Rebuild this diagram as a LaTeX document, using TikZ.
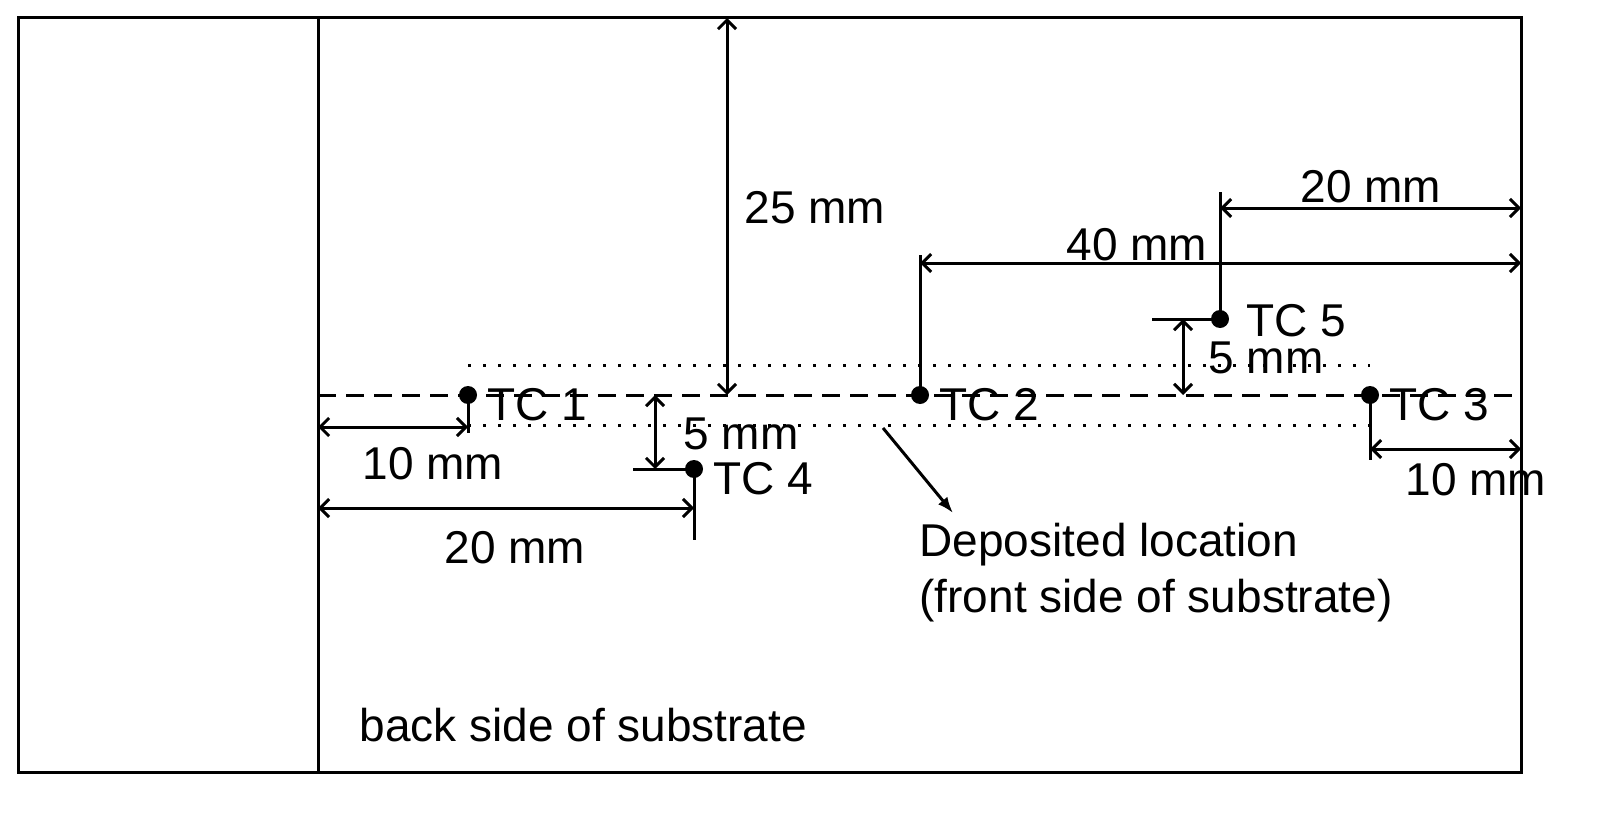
\documentclass[tikz,border=0pt]{standalone}
\usepackage{fontspec}
\setmainfont{Liberation Sans}
\usetikzlibrary{arrows.meta}
\begin{document}
\begin{tikzpicture}[x=1pt,y=-1pt,line width=3pt,
  dim/.style={{Straight Barb[length=9pt,width=18pt]}-{Straight Barb[length=9pt,width=18pt]}},
  lbl/.style={font=\fontsize{46}{52}\selectfont,inner sep=0pt},
  tc/.style={circle,fill=black,inner sep=0pt,minimum size=18pt}]
\useasboundingbox (0,0) rectangle (1601,832);
\draw (18,18) rectangle (1521,772);
\draw (318,18) -- (318,772);
\draw[dash pattern=on 18pt off 10pt] (318,395) -- (1521,395);
\draw[dash pattern=on 3pt off 12pt] (468,365) -- (1370,365);
\draw[dash pattern=on 3pt off 12pt] (468,425) -- (1370,425);
\node[tc] (t1) at (468,395) {};
\node[tc] (t2) at (920,395) {};
\node[tc] (t3) at (1370,395) {};
\node[tc] (t4) at (694,469) {};
\node[tc] (t5) at (1220,319) {};
\node[lbl,anchor=west] at (486,405) {TC 1};
\node[lbl,anchor=west] at (938,405) {TC 2};
\node[lbl,anchor=west] at (1388,405) {TC 3};
\node[lbl,anchor=west] at (712,479) {TC 4};
\node[lbl,anchor=west] at (1245,321) {TC 5};
\coordinate (a1) at (727,18); \coordinate (a2) at (727,395);
\draw[dim] (a1) -- (a2);
\node[lbl] at (815,208) {25 mm};
\draw (t1.center) -- (468,433);
\coordinate (b1) at (318,427); \coordinate (b2) at (468,427);
\draw[dim] (b1) -- (b2);
\node[lbl] at (433,464) {10 mm};
\draw (t4.center) -- (694,540);
\coordinate (c1) at (318,508); \coordinate (c2) at (694,508);
\draw[dim] (c1) -- (c2);
\node[lbl] at (515,548) {20 mm};
\draw (633,469) -- (t4.center);
\coordinate (d1) at (655,395); \coordinate (d2) at (655,469);
\draw[dim] (d1) -- (d2);
\node[lbl] at (741,434) {5 mm};
\draw (1152,319) -- (t5.center);
\coordinate (e1) at (1183,319); \coordinate (e2) at (1183,395);
\draw[dim] (e1) -- (e2);
\node[lbl] at (1266,358) {5 mm};
\draw (t2.center) -- (920,255);
\coordinate (f1) at (920,263); \coordinate (f2) at (1521,263);
\draw[dim] (f1) -- (f2);
\node[lbl] at (1137,245) {40 mm};
\draw (t5.center) -- (1220,192);
\coordinate (g1) at (1220,208); \coordinate (g2) at (1521,208);
\draw[dim] (g1) -- (g2);
\node[lbl] at (1371,187) {20 mm};
\draw (t3.center) -- (1370,460);
\coordinate (h1) at (1370,449); \coordinate (h2) at (1521,449);
\draw[dim] (h1) -- (h2);
\node[lbl] at (1476,480) {10 mm};
\coordinate (p1) at (883,428);
\coordinate (p2) at (953,513);
\node[lbl,anchor=north west,align=left] (dep) at (918,522) {Deposited location\\[4pt](front side of substrate)};
\draw[-{Latex[length=16pt,width=12pt]}] (p1) -- (p2);
\node[lbl,anchor=west] at (358,725) {back side of substrate};
\end{tikzpicture}
\end{document}
